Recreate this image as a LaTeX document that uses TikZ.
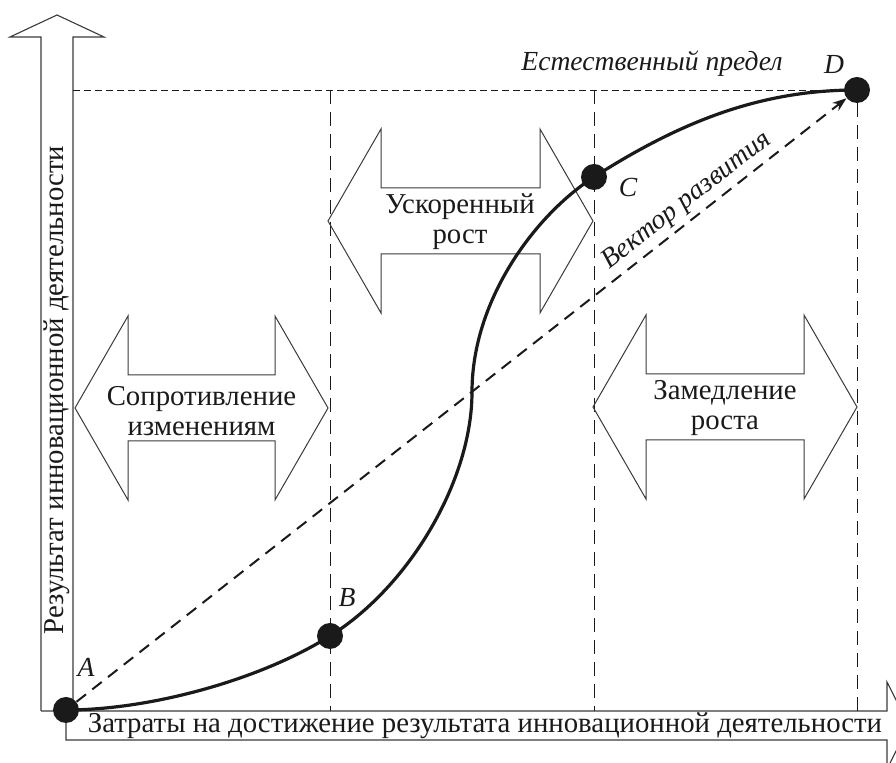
\documentclass[tikz,border=0pt]{standalone}
\usepackage{fontspec}
\setmainfont{Liberation Serif}
\usepackage{xcolor}
\usetikzlibrary{calc,arrows.meta}
\definecolor{ink}{HTML}{1A1A1A}
\definecolor{rim}{HTML}{3A3A3A}
% hollow double arrow: left tip x, right tip x, centre y
\newcommand{\dvustrel}[3]{\draw[strelka] (#1,#3) -- ++(53,-92) -- ++(0,59) -- ($(#2,#3)+(-53,-33)$) -- ++(0,-59) -- (#2,#3)
  -- ++(-53,92) -- ++(0,-59) -- ($(#1,#3)+(53,33)$) -- ++(0,59) -- cycle;}
\tikzset{osi/.style={draw=rim,line width=0.55pt},
  strelka/.style={draw=rim,line width=0.5pt},
  razdel/.style={ink,line width=0.5pt,dash pattern=on 7pt off 4pt},
  predel/.style={ink,line width=0.4pt,dash pattern=on 3.5pt off 2pt},
  krivaya/.style={ink,line width=1.6pt},
  vektor/.style={ink,line width=1pt,dash pattern=on 6pt off 4pt,-{Stealth[length=7pt,width=5pt]}},
  tochka/.style={circle,fill=ink,inner sep=0pt,minimum size=13pt},
  nadpis/.style={font=\fontsize{14.4}{15}\selectfont,text=ink,align=center,inner sep=0pt},
  bukva/.style={font=\fontsize{13.8}{15}\selectfont\itshape,text=ink,inner sep=0pt}}

\begin{document}
\begin{tikzpicture}[x=0.5pt,y=-0.5pt]
\useasboundingbox (0,0) rectangle (896,763);
\clip (0,0) rectangle (896,763);
\coordinate (A) at (66,710); \coordinate (B) at (330,636); \coordinate (C) at (594,177); \coordinate (D) at (857,90);
\coordinate (M) at (472,392);
% axes
\draw[osi] (41,711) -- (41,37) -- (10,37) -- (57,15) -- (104,37) -- (73,37) -- (73,711);
\draw[osi] (41,711) -- (887,711) -- (887,682) -- (909,725.5) -- (887,769) -- (887,740) -- (66,740) -- (66,711);
\node[nadpis,rotate=90] (ylab) at (57,390) {Результат инновационной деятельности};
\node[nadpis] (xlab) at (485,726) {Затраты на достижение результата инновационной деятельности};
% stages
\foreach \x in {330,594} \draw[razdel] (\x,90) -- (\x,711);
\draw[razdel] (857,103) -- (857,711);
\draw[predel] (73,90) -- (D);
\dvustrel{75}{328}{408}
\dvustrel{328}{593}{221}
\dvustrel{593}{857}{407}
\node[nadpis] (soprot) at (201.5,411) {Сопротивление\\изменениям};
\node[nadpis] (uskor) at (460,222) {Ускоренный\\рост};
\node[nadpis] (zamedl) at (725,408) {Замедление\\роста};
% curve
\draw[krivaya] (A) .. controls (150,710) and (260,680) .. (B) .. controls (410,586) and (472,480) .. (M)
  .. controls (472,300) and (535,215) .. (C) .. controls (680,122) and (760,90) .. (D);
\node[tochka] (tA) at (A) {}; \node[tochka] (tB) at (B) {}; \node[tochka] (tC) at (C) {}; \node[tochka] (tD) at (D) {};
\draw[vektor] (tA) -- (tD);
\node[bukva,rotate=38] (vek) at (687,201) {Вектор развития};
\node[bukva] (estpr) at (652,64) {Естественный предел};
\node[bukva] (lA) at (86,667) {A}; \node[bukva] (lB) at (347,598) {B};
\node[bukva] (lC) at (628,187) {C}; \node[bukva] (lD) at (834,64) {D};
\end{tikzpicture}
\end{document}
